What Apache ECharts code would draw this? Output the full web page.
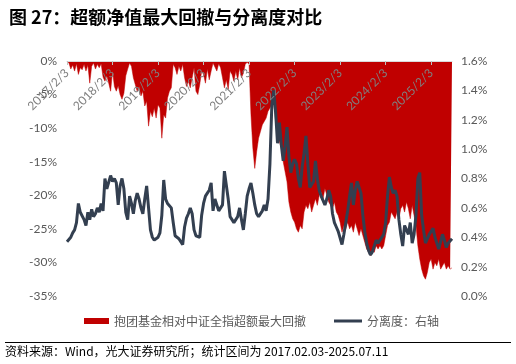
<!DOCTYPE html>
<html><head><meta charset="utf-8">
<script src="https://cdn.jsdelivr.net/npm/echarts@6/dist/echarts.min.js"></script>
<style>html,body{margin:0;padding:0;background:#fff}#c{width:516px;height:364px}</style>
</head><body><div id="c"></div>
<script>
// x-axis tick labels (yearly)
const tickLabels = ['2017/2/3','2018/2/3','2019/2/3','2020/2/3','2021/2/3','2022/2/3','2023/2/3','2024/2/3','2025/2/3'];

// categories: semi-monthly sample dates 2017/2/3 .. 2025/7/11
const categories = [];
for (let y = 2017; y <= 2025; y++) {
  for (let m = 1; m <= 12; m++) {
    for (const d of [3, 18]) {
      if (y === 2017 && m < 2) continue;
      if (y === 2025 && (m > 7 || (m === 7 && d > 3))) continue;
      categories.push(y + '/' + m + '/' + d);
    }
  }
}
categories.push('2025/7/11');

// 抱团基金相对中证全指超额最大回撤 (%), left axis
const drawdown = [
  // 2017/2 - 2018/1
  0,-0.3,-1.2,-0.6,-1.5,-0.4,-2.0,-1.0,-1.3,-0.5,-1.5,-0.6,-3.3,-0.8,-0.3,-1.2,-0.5,-1.0,-0.4,-2.4,-3.0,-2.2,-3.3,-4.5,
  // 2018/2 - 2019/1
  -1.5,-3.8,-4.5,-3.7,-5.0,-5.7,-4.8,-2.2,-1.2,-0.3,-0.8,-2.5,-3.5,-4.5,-3.8,-5.2,-4.5,-6.7,-6.0,-9.7,-7.5,-8.3,-7.0,-8.5,
  // 2019/2 - 2020/1
  -6.5,-7.0,-11.5,-8.0,-8.5,-5.5,-4.5,-4.0,-0.5,-1.0,-2.0,-0.8,-1.5,-0.5,-2.5,-3.8,-3.0,-4.0,-2.5,-1.0,-4.5,-5.0,-3.5,-1.5,
  // 2020/2 - 2021/1
  -2.0,-3.3,-1.2,-2.8,-1.5,-0.3,-0.5,-1.5,-0.4,-1.0,-2.5,-4.0,-2.8,-4.2,-1.5,-2.0,-3.0,-1.5,-2.8,-1.0,-2.5,-1.8,-0.5,-0.2,
  // 2021/2 - 2022/1
  -0.5,-8.0,-13.0,-16.0,-13.5,-11.5,-10.5,-9.5,-9.0,-8.5,-7.5,-7.0,-6.5,-6.0,-9.0,-11.0,-12.0,-13.0,-15.0,-16.5,-18.0,-21.0,-22.5,-23.5,
  // 2022/2 - 2023/1
  -24.0,-25.0,-25.5,-24.5,-25.0,-22.5,-21.5,-22.0,-21.0,-22.5,-21.5,-20.5,-21.5,-20.0,-19.5,-20.5,-19.0,-20.0,-21.0,-21.5,-22.0,-21.0,-22.5,-23.0,
  // 2023/2 - 2024/1
  -24.0,-25.5,-24.5,-25.0,-24.0,-25.0,-24.5,-25.5,-24.0,-25.0,-26.0,-25.0,-26.0,-27.0,-28.0,-28.5,-29.0,-28.0,-28.5,-27.5,-28.0,-27.5,-28.0,-27.5,
  // 2024/2 - 2025/1
  -26.0,-24.5,-24.0,-22.5,-23.0,-23.5,-22.5,-23.5,-22.0,-21.5,-22.5,-21.0,-22.0,-23.5,-21.5,-23.0,-24.5,-27.5,-29.5,-31.0,-32.0,-32.5,-31.5,-30.0,
  // 2025/2 - 2025/7/11
  -29.5,-31.0,-30.0,-30.5,-29.5,-31.0,-30.5,-30.0,-31.0,-30.5,-31.0,-30.8
];

// 分离度 (%), right axis
const separation = [
  0.37,0.38,0.40,0.43,0.45,0.50,0.63,0.57,0.58,0.52,0.48,0.57,0.52,0.59,0.54,0.56,0.60,0.57,0.63,0.58,0.80,0.73,0.72,0.82,
  0.78,0.80,0.77,0.62,0.75,0.80,0.73,0.57,0.52,0.68,0.63,0.56,0.65,0.70,0.66,0.60,0.56,0.66,0.75,0.60,0.45,0.40,0.38,0.39,
  0.40,0.43,0.55,0.79,0.66,0.63,0.62,0.60,0.50,0.41,0.40,0.39,0.37,0.35,0.47,0.53,0.56,0.60,0.56,0.45,0.41,0.40,0.40,0.55,
  0.63,0.68,0.70,0.72,0.77,0.58,0.66,0.62,0.58,0.57,0.62,0.85,0.86,0.66,0.54,0.52,0.50,0.49,0.54,0.60,0.52,0.45,0.56,0.68,
  0.73,0.77,0.70,0.62,0.56,0.54,0.53,0.58,0.62,0.58,0.66,0.90,1.30,1.40,1.25,1.04,1.18,1.03,0.92,1.02,1.15,0.95,0.84,0.90,
  0.93,0.90,0.80,0.74,0.88,0.97,1.09,0.90,0.74,0.76,0.78,0.92,0.80,0.72,0.68,0.68,0.62,0.66,0.72,0.68,0.56,0.50,0.47,0.44,
  0.43,0.35,0.42,0.50,0.58,0.68,0.77,0.62,0.72,0.78,0.79,0.70,0.55,0.44,0.36,0.31,0.28,0.30,0.34,0.38,0.36,0.37,0.40,0.42,
  0.50,0.68,0.81,0.74,0.70,0.72,0.68,0.52,0.42,0.34,0.48,0.45,0.42,0.50,0.36,0.42,0.55,0.80,0.84,0.55,0.45,0.36,0.35,0.42,
  0.44,0.46,0.40,0.36,0.32,0.33,0.42,0.38,0.33,0.36,0.35,0.39
];

const seriesNames = ['抱团基金相对中证全指超额最大回撤', '分离度：右轴'];
const titleText = '图 27：超额净值最大回撤与分离度对比';
const sourceText = '资料来源：Wind，光大证券研究所；统计区间为 2017.02.03-2025.07.11';

const RED = '#C00000', NAVY = '#333F50', GREY = '#595959';
const CJK = '"Noto Sans CJK SC", "Noto Sans", sans-serif';
const NUM = 'Lato, "Noto Sans", sans-serif';

const chart = echarts.init(document.getElementById('c'), null, {renderer: 'canvas'});
const showTick = (i, v) => tickLabels.indexOf(v) >= 0;
chart.setOption({
  animation: false,
  backgroundColor: '#fff',
  title: {
    text: titleText, left: 4, top: 3,
    textStyle: {fontFamily: CJK, fontSize: 18, fontWeight: 'bold', color: '#000'}
  },
  grid: {left: 67, right: 64, top: 61, bottom: 68, containLabel: false},
  legend: [
    {left: 79, top: 310, itemWidth: 25, itemHeight: 6, itemGap: 4,
     textStyle: {fontFamily: CJK, fontSize: 12, color: GREY},
     data: [{name: seriesNames[0], icon: 'rect', itemStyle: {color: RED}}]},
    {left: 329, top: 310, itemWidth: 28, itemHeight: 3,
     textStyle: {fontFamily: CJK, fontSize: 12, color: GREY},
     data: [{name: seriesNames[1], icon: 'rect', itemStyle: {color: NAVY}}]}
  ],
  xAxis: {
    type: 'category', data: categories, boundaryGap: false, position: 'top', z: 10,
    axisLine: {onZero: false, lineStyle: {color: '#D9D9D9', width: 1}},
    axisTick: {show: true, inside: true, interval: showTick, length: 4, lineStyle: {color: '#BFBFBF'}},
    axisLabel: {inside: true, interval: showTick, rotate: -45, margin: 10, color: '#7F7F7F', fontFamily: NUM, fontSize: 12},
    splitLine: {show: false}
  },
  yAxis: [
    {type: 'value', min: -35, max: 0, interval: 5,
     axisLine: {show: false}, axisTick: {show: false}, splitLine: {show: false},
     axisLabel: {formatter: '{value}%', color: GREY, fontFamily: NUM, fontSize: 12, margin: 10}},
    {type: 'value', min: 0, max: 1.6, interval: 0.2, position: 'right',
     axisLine: {show: false}, axisTick: {show: false}, splitLine: {show: false},
     axisLabel: {formatter: v => v.toFixed(1) + '%', color: GREY, fontFamily: NUM, fontSize: 12, margin: 9}}
  ],
  series: [
    {name: seriesNames[0], type: 'line', yAxisIndex: 0, data: drawdown, symbol: 'none',
     lineStyle: {color: RED, width: 0.5}, itemStyle: {color: RED},
     areaStyle: {color: RED, opacity: 1}, z: 1},
    {name: seriesNames[1], type: 'line', yAxisIndex: 1, data: separation, symbol: 'none',
     lineStyle: {color: NAVY, width: 3}, itemStyle: {color: NAVY}, z: 3}
  ],
  graphic: [
    {type: 'line', shape: {x1: 5, y1: 342.5, x2: 511, y2: 342.5}, style: {stroke: '#000', lineWidth: 1}},
    {type: 'text', left: 5, top: 345, style: {text: sourceText, fill: '#000', font: '12px "Noto Sans CJK SC", sans-serif'}}
  ]
});
</script></body></html>
